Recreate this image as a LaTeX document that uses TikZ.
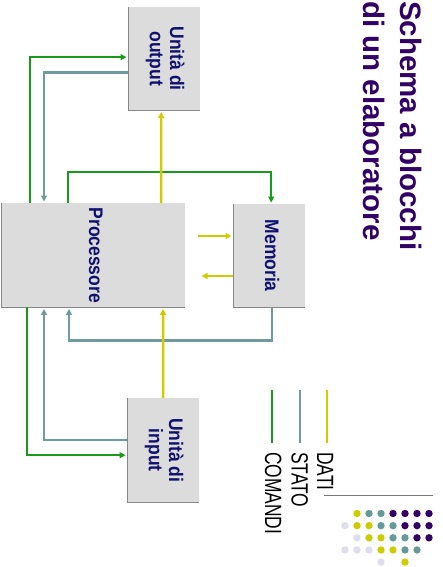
\documentclass[tikz,border=0pt]{standalone}
\usepackage{fontspec}
\setmainfont{Liberation Sans}
\usetikzlibrary{arrows.meta}
\definecolor{cmdc}{RGB}{26,154,26}
\definecolor{statc}{RGB}{110,156,156}
\definecolor{datc}{RGB}{208,204,0}
\definecolor{boxfill}{RGB}{220,220,220}
\definecolor{boxedge}{RGB}{135,135,135}
\definecolor{navy}{RGB}{16,16,110}
\definecolor{titlec}{RGB}{51,0,102}
\definecolor{dotY}{RGB}{204,204,0}
\definecolor{dotT}{RGB}{102,153,153}
\definecolor{dotP}{RGB}{51,0,102}
\definecolor{dotL}{RGB}{221,221,238}
\definecolor{rulec}{RGB}{120,120,120}
\newcommand{\boxlbl}[1]{\scalebox{1}[1.12]{\begin{tabular}{@{}c@{}}#1\end{tabular}}}
\newcommand{\leglbl}[1]{\scalebox{1}[1.35]{#1}}
\begin{document}
\begin{tikzpicture}[x=1pt,y=-1pt,
  blk/.style={fill=boxfill, draw=none, inner sep=0, anchor=north west},
  blktext/.style={rotate=-90, inner sep=0, text=navy, font=\fontsize{17.5}{18}\selectfont\bfseries},
  shade/.style={draw=boxedge, line width=1pt},
  conn/.style={line width=2.5pt, -{Triangle[length=6pt,width=6pt]}, shorten >=1.5pt},
  cmd/.style={conn, draw=cmdc},
  stat/.style={conn, draw=statc},
  dat/.style={conn, draw=datc},
  legtext/.style={anchor=base west, rotate=-90, inner sep=0, font=\fontsize{17.4}{18}\selectfont},
  ttl/.style={anchor=base west, rotate=-90, inner sep=0, text=titlec, font=\fontsize{29.5}{30}\selectfont\bfseries}
]
\useasboundingbox (0,0) rectangle (442,567);

% blocks
\node[blk, minimum width=72pt, minimum height=103pt] (Out) at (128,7) {};
\node[blk, minimum width=184pt, minimum height=104pt] (Proc) at (1,203) {};
\node[blk, minimum width=72pt, minimum height=103pt] (Mem) at (233,204) {};
\node[blk, minimum width=72pt, minimum height=104pt] (In) at (127,398) {};
\foreach \b in {Out,Proc,Mem,In}
  \draw[shade] (\b.north west) -- (\b.south west) -- (\b.south east);

\node[blktext] (OutT) at (Out.center) {\boxlbl{Unità di\\output}};
\node[blktext] (ProcT) at (Proc.center) {\boxlbl{Processore}};
\node[blktext] (MemT) at (Mem.center) {\boxlbl{Memoria}};
\node[blktext] (InT) at (In.center) {\boxlbl{Unità di\\input}};

% upper connectors
\draw[cmd] ([xshift=29pt]Proc.north west) |- ([yshift=1.5pt]Out.west);
\draw[stat] ([yshift=-14pt]Out.west) -| ([xshift=43pt]Proc.north west);
\draw[cmd] ([xshift=67pt]Proc.north west) -- ++(0,-31) -| ([xshift=2pt]Mem.north);
\draw[dat] ([xshift=160pt]Proc.north west) -- ([xshift=-3pt]Out.south);

% processor <-> memory
\coordinate (d1) at (198,236);
\coordinate (d2) at (200,276);
\draw[dat] (d1) -- (d1 -| Mem.west);
\draw[dat] (d2 -| Mem.west) -- (d2);

% lower connectors
\draw[cmd] ([xshift=26pt]Proc.south west) |- ([yshift=-5pt]In.west);
\draw[stat] ([yshift=10pt]In.west) -| ([xshift=43pt]Proc.south west);
\draw[stat] ([xshift=3pt]Mem.south) -- ++(0,33) -| ([xshift=68pt]Proc.south west);
\draw[dat] (In.north) -- ([xshift=162pt]Proc.south west);

% title
\node[ttl] (T1) at (400,1) {Schema a blocchi};
\node[ttl] (T2) at (363,1) {di un elaboratore};

% legend
\coordinate (lc1) at (272,390); \coordinate (lc2) at (272,443);
\coordinate (ls1) at (300,390); \coordinate (ls2) at (300,443);
\coordinate (ld1) at (327,390); \coordinate (ld2) at (327,443);
\draw[cmdc, line width=1.6pt] (lc1) -- (lc2);
\draw[statc, line width=1.6pt] (ls1) -- (ls2);
\draw[datc, line width=1.6pt] (ld1) -- (ld2);
\node[legtext] (LC) at (265,452) {\leglbl{COMANDI}};
\node[legtext] (LS) at (291.5,452) {\leglbl{STATO}};
\node[legtext] (LD) at (317,452) {\leglbl{DATI}};

% rule
\coordinate (r1) at (324,495.7);
\coordinate (r2) at (433,495.7);
\draw[rulec, line width=1.2pt] (r1) -- (r2);

% dots
\foreach \r/\k/\c in {
  0/1/dotY,0/2/dotT,0/3/dotT,0/4/dotP,0/5/dotP,0/6/dotP,0/7/dotP,
  1/0/dotL,1/1/dotY,1/2/dotY,1/3/dotT,1/4/dotT,1/5/dotP,1/6/dotP,1/7/dotP,
  2/1/dotL,2/2/dotY,2/3/dotY,2/4/dotT,2/5/dotT,2/6/dotP,2/7/dotP,
  3/0/dotL,3/1/dotL,3/2/dotL,3/3/dotY,3/4/dotY,3/5/dotT,3/6/dotT,
  4/3/dotL,4/5/dotY}
  \fill[\c] ({345+12*\k},{513.5+12.15*\r}) circle[radius=3.7];
\end{tikzpicture}
\end{document}
